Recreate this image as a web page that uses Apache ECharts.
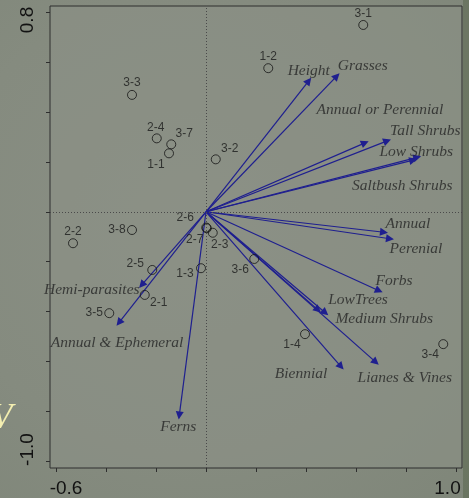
<!DOCTYPE html>
<html>
<head>
<meta charset="utf-8">
<script src="https://cdn.jsdelivr.net/npm/echarts@6/dist/echarts.min.js"></script>
<style>
  html, body { margin: 0; padding: 0; }
  body {
    width: 469px; height: 498px; overflow: hidden;
    background: radial-gradient(ellipse at 40% 45%, #8a8f85 0%, #858b7f 60%, #7f8679 100%);
  }
  #chart { width: 469px; height: 498px; }
</style>
</head>
<body>
<div id="chart"></div>
<script>
// Sites (ordination scores)
const siteNames = ['1-1', '1-2', '1-3', '1-4', '2-1', '2-2', '2-3', '2-4', '2-5', '2-6',
                   '2-7', '3-1', '3-2', '3-3', '3-4', '3-5', '3-6', '3-7', '3-8'];
const siteX = [-0.148, 0.249, -0.020, 0.396, -0.245, -0.532, 0.027, -0.197, -0.215, 0.001,
               0.003, 0.629, 0.039, -0.296, 0.949, -0.387, 0.193, -0.139, -0.296];
const siteY = [0.234, 0.575, -0.226, -0.490, -0.333, -0.126, -0.084, 0.294, -0.233, -0.063,
               -0.066, 0.748, 0.210, 0.468, -0.530, -0.406, -0.189, 0.270, -0.073];

// Variables (biplot vectors)
const varNames = ['Height', 'Grasses', 'Annual or Perennial', 'Tall Shrubs', 'Low Shrubs',
                  'Saltbush Shrubs', 'Annual', 'Perenial', 'Forbs', 'LowTrees', 'Medium Shrubs',
                  'Biennial', 'Lianes & Vines', 'Hemi-parasites', 'Annual & Ephemeral', 'Ferns'];
const varX = [0.411, 0.523, 0.636, 0.725, 0.845, 0.829, 0.712, 0.736, 0.692, 0.448, 0.477,
              0.540, 0.679, -0.257, -0.348, -0.107];
const varY = [0.524, 0.543, 0.276, 0.284, 0.218, 0.207, -0.082, -0.108, -0.316, -0.393, -0.404,
              -0.620, -0.602, -0.293, -0.444, -0.816];

// Axis ticks and labels
const xTicks = [-0.6, -0.4, -0.2, 0.0, 0.2, 0.4, 0.6, 0.8, 1.0];
const xLabels = [-0.6, 1.0];
const yTicks = [-1.0, -0.8, -0.6, -0.4, -0.2, 0.0, 0.2, 0.4, 0.6, 0.8];
const yLabels = [-1.0, 0.8];

// Label placement (pixel offsets from the marker / arrow tip)
const siteLabelOffsets = [[-13, 11], [0, -11], [-16, 5], [-13, 11], [14, 8], [0, -12], [7, 12],
                          [-1, -11], [-17, -6], [-21, -10], [-12, 11], [0, -11], [14, -11],
                          [0, -12], [-13, 11], [-15, 0], [-14, 11], [13, -11], [-15, 0]];
const varLabelOffsets = [[0, -10], [26, -10], [15, -33], [38, -10], [-1, -5], [-11, 26],
                         [24, -8], [26, 10], [15, -10], [40, -10], [59, 6], [-40, 7],
                         [29, 16], [-50, 5], [-2, 20], [-1, 11]];

const arrowColor = '#1f1f8f';
const frameColor = '#2e2e2e';
const sansFont = 'Liberation Sans, Arial, sans-serif';

const chart = echarts.init(document.getElementById('chart'));

const siteData = siteNames.map((n, i) => ({
  name: n,
  value: [siteX[i], siteY[i]],
  label: { offset: siteLabelOffsets[i] }
}));

const arrowData = varNames.map((n, i) => ({
  name: n,
  coords: [[0, 0], [varX[i], varY[i]]]
}));

const varLabelData = varNames.map((n, i) => ({
  name: n,
  value: [varX[i], varY[i]],
  label: { offset: varLabelOffsets[i] }
}));

function tickLabel(v) {
  return (v < 0 ? '{lo|' : '{hi|') + v.toFixed(1) + '}';
}

chart.setOption({
  backgroundColor: 'transparent',
  animation: false,
  grid: {
    left: 50, right: 7, top: 6, bottom: 30,
    show: true,
    borderColor: frameColor,
    borderWidth: 1,
    backgroundColor: 'rgba(140,145,134,0.55)'
  },
  xAxis: {
    type: 'value',
    min: -0.624,
    max: 1.024,
    axisLine: { show: false, onZero: false },
    splitLine: { show: false },
    axisTick: {
      show: true, length: 4, customValues: xTicks,
      lineStyle: { color: frameColor, width: 1 }
    },
    axisLabel: {
      customValues: xLabels,
      margin: 11,
      fontFamily: sansFont,
      fontSize: 19,
      color: '#121212',
      formatter: tickLabel,
      rich: {
        lo: { fontFamily: sansFont, fontSize: 19, color: '#121212', padding: [0, 0, 0, 20] },
        hi: { fontFamily: sansFont, fontSize: 19, color: '#121212', padding: [0, 17, 0, 0] }
      }
    }
  },
  yAxis: {
    type: 'value',
    min: -1.026,
    max: 0.824,
    axisLine: { show: false, onZero: false },
    splitLine: { show: false },
    axisTick: {
      show: true, length: 4, customValues: yTicks,
      lineStyle: { color: frameColor, width: 1 }
    },
    axisLabel: {
      customValues: yLabels,
      rotate: 90,
      margin: 13,
      fontFamily: sansFont,
      fontSize: 19,
      color: '#121212',
      formatter: tickLabel,
      rich: {
        lo: { fontFamily: sansFont, fontSize: 19, color: '#121212', padding: [0, 0, 0, 24] },
        hi: { fontFamily: sansFont, fontSize: 19, color: '#121212', padding: [0, 16, 0, 0] }
      }
    }
  },
  graphic: [
    {
      type: 'rect',
      shape: { x: 463, y: 0, width: 6, height: 498 },
      style: { fill: 'rgba(70,85,55,0.35)' },
      silent: true
    },
    {
      type: 'text',
      left: -9,
      top: 401,
      style: {
        text: 'V',
        font: 'italic 35px "Liberation Serif", "Times New Roman", serif',
        fill: '#f3eeb0'
      },
      silent: true
    }
  ],
  series: [
    {
      // reference lines through the origin
      type: 'line',
      data: [],
      silent: true,
      markLine: {
        silent: true,
        symbol: 'none',
        label: { show: false },
        lineStyle: { color: '#4a4a4a', type: [1, 2], width: 1 },
        data: [{ xAxis: 0 }, { yAxis: 0 }]
      }
    },
    {
      type: 'lines',
      coordinateSystem: 'cartesian2d',
      silent: true,
      symbol: ['none', 'triangle'],
      symbolSize: [0, 8],
      lineStyle: { color: arrowColor, width: 1.2, opacity: 1 },
      itemStyle: { color: arrowColor },
      data: arrowData,
      z: 3
    },
    {
      type: 'scatter',
      silent: true,
      symbol: 'circle',
      symbolSize: 9,
      itemStyle: { color: 'rgba(0,0,0,0)', borderColor: '#151515', borderWidth: 1 },
      label: {
        show: true,
        position: 'inside',
        formatter: p => p.name,
        fontFamily: sansFont,
        fontSize: 12,
        color: '#1a1a1a'
      },
      data: siteData,
      z: 4
    },
    {
      type: 'scatter',
      silent: true,
      symbol: 'circle',
      symbolSize: 2,
      itemStyle: { color: 'rgba(0,0,0,0)' },
      label: {
        show: true,
        position: 'inside',
        formatter: p => p.name,
        fontFamily: '"Liberation Serif", "Times New Roman", serif',
        fontStyle: 'italic',
        fontSize: 15.5,
        color: '#262626'
      },
      data: varLabelData,
      z: 5
    }
  ]
});
</script>
</body>
</html>
